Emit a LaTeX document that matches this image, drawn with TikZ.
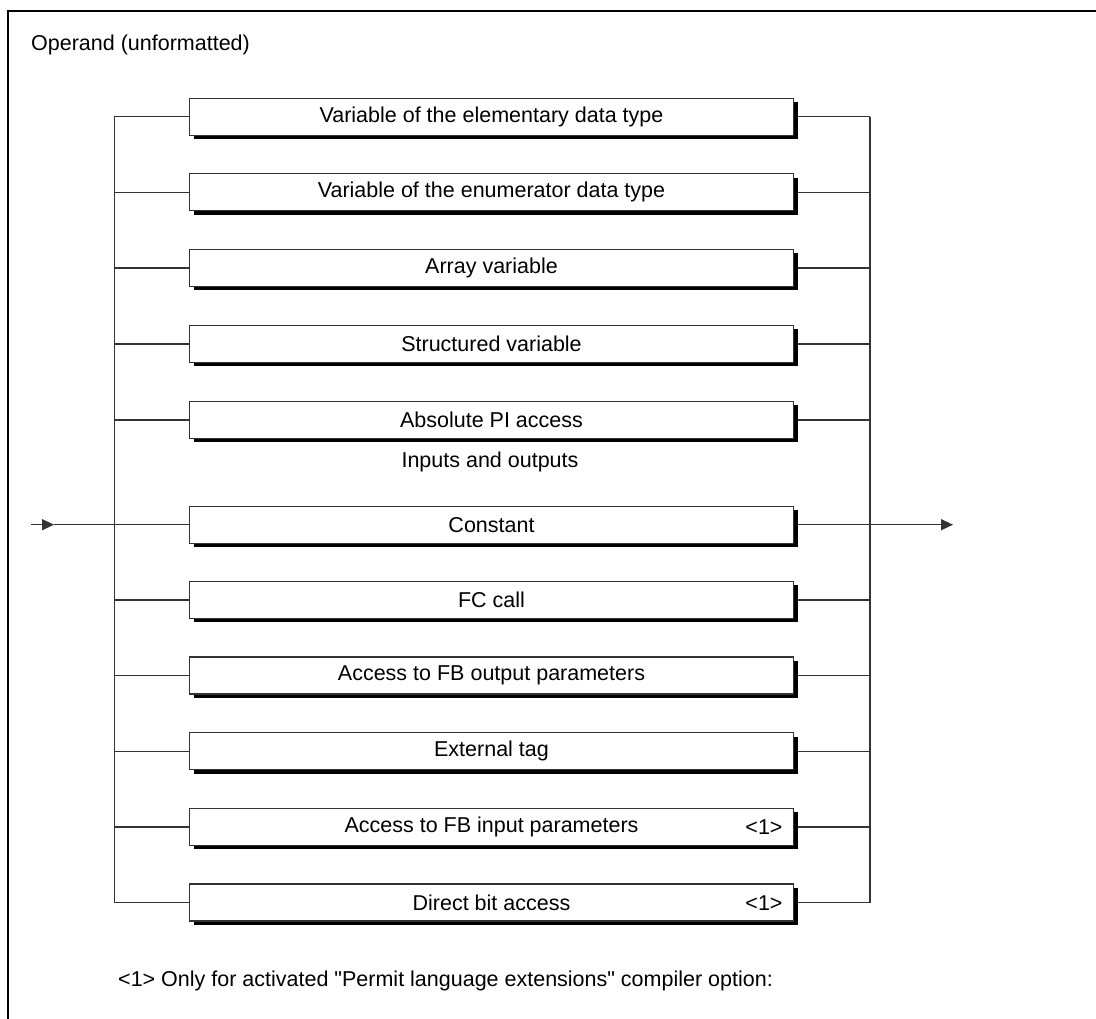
\documentclass[tikz,border=0pt]{standalone}
\usepackage{fontspec}
\setmainfont{Liberation Sans}
\newfontfamily\rawfont{Liberation Sans}
\usetikzlibrary{arrows.meta}
\begin{document}
\begin{tikzpicture}[x=1pt,y=-1pt,
  font=\fontsize{21.5}{25}\selectfont,
  conn/.style={line width=1.4pt, draw=black!80},
  frameline/.style={line width=2.6pt, draw=black},
  sbox/.style={draw=black!80, line width=1.3pt, fill=white, minimum width=604pt, minimum height=37pt, inner sep=0pt, yshift=0pt},
  shadowbox/.style={fill=black, minimum width=604pt, minimum height=37pt, inner sep=0pt},
  tip/.style={-{Triangle[length=12pt,width=11pt]}},
  lbl/.style={inner sep=0pt}
]
\useasboundingbox (0,0) rectangle (1096,1019);
\draw[frameline] (1096,11) -- (8,11) -- (8,1019);
\node[lbl, anchor=west] (title) at (31,45) {Operand (unformatted)};

% rows
\foreach \n/\y/\t in {
  r1/116.7/{Variable of the elementary data type},
  r2/192.3/{Variable of the enumerator data type},
  r3/268/{Array variable},
  r4/344/{Structured variable},
  r5/420/{Absolute PI access},
  r6/524.7/{Constant},
  r7/600/{FC call},
  r8/675.6/{Access to FB output parameters},
  r9/751.3/{External tag},
  r10/827/{Access to FB input parameters},
  r11/902.6/{Direct bit access}}{
  \node[shadowbox] (\n s) at (495.5,\y+3.8) {};
  \node[sbox] (\n) at (491.5,\y) {\t};
  \coordinate (\n L) at (114.3,\y);
  \coordinate (\n R) at (870,\y);
}
\node[lbl] (ext1) at (764,827) {<1>};
\node[lbl] (ext2) at (764,902.6) {<1>};
\node[lbl] (io) at (490,462) {Inputs and outputs};

% buses
\draw[conn] (r1L) -- (r11L);
\draw[conn] (r1R) -- (r11R);
\foreach \n in {r1,r2,r3,r4,r5,r6,r7,r8,r9,r10,r11}{
  \draw[conn] (\n L) -- (\n.west);
  \draw[conn] ([xshift=4pt]\n.east) -- (\n R);
}

% entry / exit
\coordinate (in) at (31,524.7);
\coordinate (inTip) at (54,524.7);
\coordinate (out) at (953,524.7);
\draw[conn, tip] (in) -- (inTip);
\draw[conn] (inTip) -- (r6L);
\draw[conn, tip] (r6R) -- (out);

\node[lbl, anchor=west, font=\rawfont\fontsize{21.5}{25}\selectfont] (foot) at (118,981) {<1> Only for activated "Permit language extensions" compiler option:};
\end{tikzpicture}
\end{document}
